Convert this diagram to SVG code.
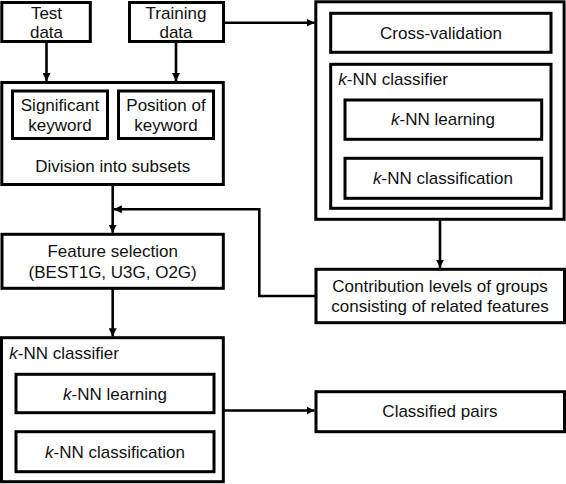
<svg xmlns="http://www.w3.org/2000/svg" width="566" height="484" viewBox="0 0 566 484">
<style>
.box{fill:#fff;stroke:#000;stroke-width:3}
.inner{fill:none;stroke:#000;stroke-width:3}
.t{font-family:"Liberation Sans",Arial,sans-serif;font-size:17px;fill:#111;text-anchor:middle}
.l{font-family:"Liberation Sans",Arial,sans-serif;font-size:17px;fill:#111}
.c{fill:none;stroke:#000;stroke-width:2.6}
</style>
<defs>
<marker id="ah" markerUnits="userSpaceOnUse" viewBox="0 0 10 10" refX="10" refY="5" markerWidth="8" markerHeight="8" orient="auto">
<path d="M0,0 L10,5 L0,10 z" fill="#000"/>
</marker>
</defs>
<rect width="566" height="484" fill="#fff"/>
<g id="connectors">
<line class="c" x1="46.5" y1="41" x2="46.5" y2="81" marker-end="url(#ah)"/>
<line class="c" x1="176" y1="41" x2="176" y2="81" marker-end="url(#ah)"/>
<line class="c" x1="223" y1="22.7" x2="314.5" y2="22.7" marker-end="url(#ah)"/>
<line class="c" x1="112.7" y1="184" x2="112.7" y2="232.8" marker-end="url(#ah)"/>
<polyline class="c" points="316,296 259.3,296 259.3,209.3 113.8,209.3" marker-end="url(#ah)"/>
<line class="c" x1="440" y1="219" x2="440" y2="267.8" marker-end="url(#ah)"/>
<line class="c" x1="112.7" y1="288" x2="112.7" y2="336.3" marker-end="url(#ah)"/>
<line class="c" x1="223" y1="410.5" x2="314.5" y2="410.5" marker-end="url(#ah)"/>
</g>
<g id="test-data">
<rect class="box" x="1.8" y="2.5" width="88.5" height="39"/>
<text class="t" x="46.5" y="18.5">Test</text>
<text class="t" x="46.5" y="37.5">data</text>
</g>
<g id="training-data">
<rect class="box" x="129.5" y="2.5" width="94" height="39"/>
<text class="t" x="176" y="18.5">Training</text>
<text class="t" x="176" y="37.5">data</text>
</g>
<g id="division">
<rect class="box" x="1.8" y="82.5" width="221.5" height="102"/>
<text class="t" x="112.7" y="171.7">Division into subsets</text>
</g>
<g id="significant-keyword">
<rect class="box" x="12.5" y="91" width="95" height="47.5"/>
<text class="t" x="60" y="111">Significant</text>
<text class="t" x="60" y="131">keyword</text>
</g>
<g id="position-keyword">
<rect class="box" x="118.5" y="91" width="95" height="47.5"/>
<text class="t" x="166" y="111">Position of</text>
<text class="t" x="166" y="131">keyword</text>
</g>
<g id="cv-group">
<rect class="box" x="315.8" y="1.8" width="248.3" height="217.5"/>
</g>
<g id="cross-validation">
<rect class="box" x="330.7" y="13.3" width="220.3" height="39"/>
<text class="t" x="441" y="38.5">Cross-validation</text>
</g>
<g id="knn-classifier-top">
<rect class="box" x="330.7" y="64.3" width="220.3" height="144"/>
<text class="l" x="338.3" y="85"><tspan font-style="italic">k</tspan>-NN classifier</text>
</g>
<g id="knn-learning-top">
<rect class="box" x="345" y="100" width="196.7" height="39.3"/>
<text class="t" x="443" y="125.3"><tspan font-style="italic">k</tspan>-NN learning</text>
</g>
<g id="knn-classification-top">
<rect class="box" x="345" y="158.3" width="196.7" height="40"/>
<text class="t" x="443" y="183.7"><tspan font-style="italic">k</tspan>-NN classification</text>
</g>
<g id="feature-selection">
<rect class="box" x="2" y="234.3" width="221.3" height="54"/>
<text class="t" x="112.7" y="257">Feature selection</text>
<text class="t" x="112.7" y="277.5">(BEST1G, U3G, O2G)</text>
</g>
<g id="contribution">
<rect class="box" x="316" y="269.3" width="248.5" height="53.4"/>
<text class="t" x="440" y="291.7">Contribution levels of groups</text>
<text class="t" x="440" y="311.7">consisting of related features</text>
</g>
<g id="knn-classifier-bottom">
<rect class="box" x="1.5" y="337.7" width="221.8" height="144"/>
<text class="l" x="9.3" y="359.3"><tspan font-style="italic">k</tspan>-NN classifier</text>
</g>
<g id="knn-learning-bottom">
<rect class="box" x="16" y="374.3" width="198" height="38.4"/>
<text class="t" x="115" y="400"><tspan font-style="italic">k</tspan>-NN learning</text>
</g>
<g id="knn-classification-bottom">
<rect class="box" x="16" y="431.7" width="198" height="40"/>
<text class="t" x="115" y="458.3"><tspan font-style="italic">k</tspan>-NN classification</text>
</g>
<g id="classified-pairs">
<rect class="box" x="316" y="391.7" width="248.5" height="40"/>
<text class="t" x="440" y="417.3">Classified pairs</text>
</g>
</svg>
